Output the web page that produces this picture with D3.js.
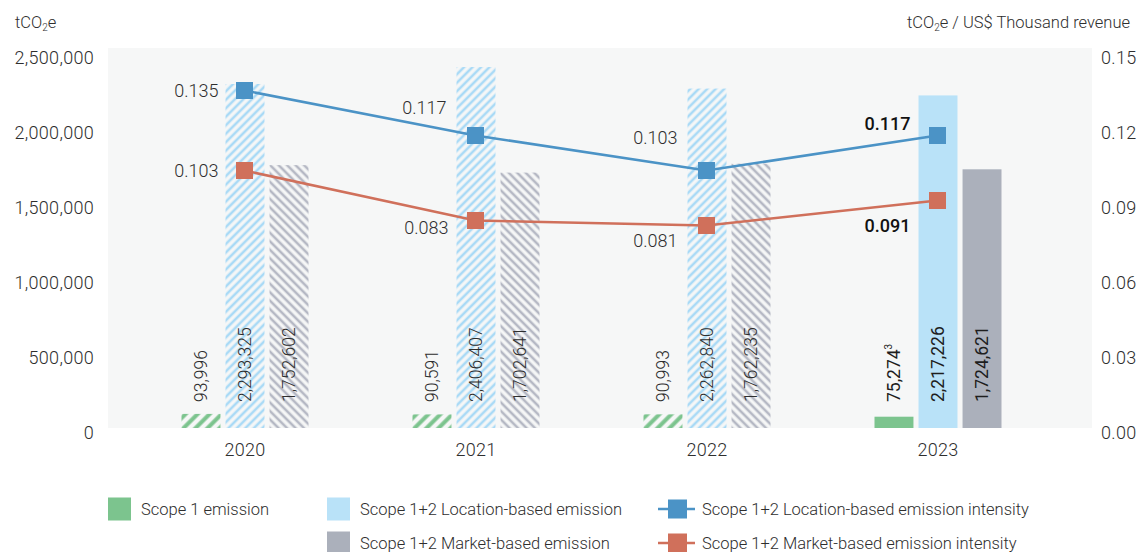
<!DOCTYPE html>
<html>
<head>
<meta charset="utf-8">
<script src="https://cdn.jsdelivr.net/npm/d3@7"></script>
<style>
  html, body { margin: 0; padding: 0; background: #ffffff; }
  svg { display: block; font-family: Roboto, "Noto Sans", sans-serif; font-weight: 300; }
</style>
</head>
<body>
<svg id="chart" width="1138" height="552"></svg>
<script>
// ---- data ----
const years = ["2020", "2021", "2022", "2023"];
const scope1 = [93996, 90591, 90993, 75274];
const locationBased = [2293325, 2406407, 2262840, 2217226];
const marketBased = [1752602, 1702641, 1762235, 1724621];
const locationIntensity = [0.135, 0.117, 0.103, 0.117];
const marketIntensity = [0.103, 0.083, 0.081, 0.091];
const leftTicks = [0, 500000, 1000000, 1500000, 2000000, 2500000];
const rightTicks = [0, 0.03, 0.06, 0.09, 0.12, 0.15];
const finalYear = "2023";

// ---- layout ----
const plot = { left: 108, right: 1092, top: 48, bottom: 428 };
const textColor = "#2e2e2e";
const colors = {
  scope1: "#7cc48e",
  location: "#b9e2f8",
  market: "#abb0bb",
  locLine: "#4b93c6",
  mktLine: "#d0705b",
  bg: "#f6f7f7"
};
// intensity label offsets relative to each marker [dx, dy]
const locLabelOffset = [[-26, 0], [-29, -28], [-29, -33], [-27, -12]];
const mktLabelOffset = [[-26, 0], [-27, 7], [-29, 15], [-27, 25]];

const svg = d3.select("#chart");
const defs = svg.append("defs");

// diagonal stripe fills for the earlier years
function hatch(id, color, angle, spacing, strokeW) {
  const p = defs.append("pattern")
    .attr("id", id)
    .attr("patternUnits", "userSpaceOnUse")
    .attr("width", spacing).attr("height", spacing)
    .attr("patternTransform", `rotate(${angle})`);
  p.append("rect").attr("width", spacing).attr("height", spacing).attr("fill", colors.bg);
  p.append("line")
    .attr("x1", spacing / 2).attr("y1", 0).attr("x2", spacing / 2).attr("y2", spacing)
    .attr("stroke", color).attr("stroke-width", strokeW);
}
hatch("hatch-scope1", colors.scope1, 45, 8.5, 4);
hatch("hatch-location", "#a9daf6", 45, 6, 2.6);
hatch("hatch-market", "#b5b8c4", -45, 6, 2.6);

// ---- scales ----
const x = d3.scaleBand().domain(years).range([129.5, 1053.5]).paddingInner(0);
const series = ["scope1", "location", "market"];
const xs = d3.scaleBand().domain(series).range([-63.5, 63.5]).paddingInner(0.115);
const yL = d3.scaleLinear().domain([0, 2500000]).range([plot.bottom, 53]);
const yR = d3.scaleLinear().domain([0, 0.15]).range([plot.bottom, 53]);

// plot background
svg.append("rect")
  .attr("x", plot.left).attr("y", plot.top)
  .attr("width", plot.right - plot.left).attr("height", plot.bottom - plot.top)
  .attr("fill", colors.bg);

// ---- axes ----
const fmt = d3.format(",");
const leftAxis = svg.append("g")
  .attr("transform", `translate(94,5)`)
  .call(d3.axisLeft(yL).tickValues(leftTicks).tickFormat(fmt).tickSize(0).tickPadding(0));
const rightAxis = svg.append("g")
  .attr("transform", `translate(1101,5)`)
  .call(d3.axisRight(yR).tickValues(rightTicks).tickFormat(d3.format(".2f")).tickSize(0).tickPadding(0));
const bottomAxis = svg.append("g")
  .attr("transform", `translate(0,${plot.bottom + 15})`)
  .call(d3.axisBottom(x).tickSize(0).tickPadding(0));
[leftAxis, rightAxis, bottomAxis].forEach(g => {
  g.select(".domain").remove();
  g.selectAll("text").attr("fill", textColor).attr("font-size", 18)
    .attr("font-family", "Roboto, 'Noto Sans', sans-serif").attr("font-weight", 300)
    .attr("letter-spacing", 0.3);
});

// axis titles
const leftTitle = svg.append("text").attr("x", 15).attr("y", 28)
  .attr("fill", textColor).attr("font-size", 16.5);
leftTitle.append("tspan").text("tCO");
leftTitle.append("tspan").attr("font-size", 10).attr("dy", 3).text("2");
leftTitle.append("tspan").attr("dy", -3).text("e");

const rightTitle = svg.append("text").attr("x", 1130).attr("y", 28)
  .attr("text-anchor", "end").attr("fill", textColor).attr("font-size", 16.5);
rightTitle.append("tspan").text("tCO");
rightTitle.append("tspan").attr("font-size", 10).attr("dy", 3).text("2");
rightTitle.append("tspan").attr("dy", -3).text("e / US$ Thousand revenue");

// ---- bars ----
const barRows = years.map((yr, i) => ({
  year: yr,
  items: [
    { key: "scope1", value: scope1[i] },
    { key: "location", value: locationBased[i] },
    { key: "market", value: marketBased[i] }
  ]
}));

const groups = svg.append("g").selectAll("g")
  .data(barRows).join("g")
  .attr("transform", d => `translate(${x(d.year) + x.bandwidth() / 2},0)`);

groups.selectAll("rect")
  .data(d => d.items.map(it => ({ ...it, year: d.year })))
  .join("rect")
  .attr("x", d => xs(d.key))
  .attr("width", xs.bandwidth())
  .attr("y", d => yL(d.value))
  .attr("height", d => yL(0) - yL(d.value))
  .attr("fill", d => d.year === finalYear ? colors[d.key] : `url(#hatch-${d.key})`);

// rotated value labels
const valueLabels = groups.selectAll("text.val")
  .data(d => d.items.map(it => ({ ...it, year: d.year })))
  .join("text")
  .attr("class", "val")
  .attr("transform", d => `translate(${xs(d.key) + xs.bandwidth() / 2 + 6},402) rotate(-90)`)
  .attr("fill", d => d.year === finalYear ? "#1e1e1e" : textColor)
  .attr("font-weight", d => d.year === finalYear ? 400 : 300)
  .attr("font-size", 17.5);
valueLabels.append("tspan").text(d => fmt(d.value));
valueLabels.filter(d => d.year === finalYear && d.key === "scope1")
  .append("tspan").attr("font-size", 10).attr("dy", -8).text("3");

// ---- intensity lines ----
function drawLine(values, color, offsets) {
  const pts = years.map((yr, i) => ({ year: yr, value: values[i], off: offsets[i] }));
  const cx = d => x(d.year) + x.bandwidth() / 2 + xs("location") + xs.bandwidth() / 2 - 0.5;
  svg.append("path")
    .datum(pts)
    .attr("fill", "none").attr("stroke", color).attr("stroke-width", 2.6)
    .attr("d", d3.line().x(cx).y(d => yR(d.value)));
  svg.append("g").selectAll("rect").data(pts).join("rect")
    .attr("x", d => cx(d) - 8.5).attr("y", d => yR(d.value) - 8.5)
    .attr("width", 17).attr("height", 17).attr("fill", color);
  svg.append("g").selectAll("text").data(pts).join("text")
    .attr("x", d => cx(d) + d.off[0])
    .attr("y", d => yR(d.value) + d.off[1])
    .attr("dy", "0.35em")
    .attr("text-anchor", "end")
    .attr("font-size", 18)
    .attr("font-weight", d => d.year === finalYear ? 500 : 300)
    .attr("fill", d => d.year === finalYear ? "#111" : textColor)
    .text(d => d3.format(".3f")(d.value));
}
drawLine(locationIntensity, colors.locLine, locLabelOffset);
drawLine(marketIntensity, colors.mktLine, mktLabelOffset);

// ---- legend ----
const legendItems = [
  { type: "box", color: colors.scope1, label: "Scope 1 emission", x: 108, y: 509 },
  { type: "box", color: colors.location, label: "Scope 1+2 Location-based emission", x: 327, y: 509 },
  { type: "box", color: colors.market, label: "Scope 1+2 Market-based emission", x: 327, y: 543 },
  { type: "line", color: colors.locLine, label: "Scope 1+2 Location-based emission intensity", x: 658, y: 509 },
  { type: "line", color: colors.mktLine, label: "Scope 1+2 Market-based emission intensity", x: 658, y: 543 }
];
const lg = svg.append("g").selectAll("g").data(legendItems).join("g")
  .attr("transform", d => `translate(${d.x},${d.y})`);
lg.filter(d => d.type === "box").append("rect")
  .attr("x", 0).attr("y", -11.5).attr("width", 23).attr("height", 23)
  .attr("fill", d => d.color);
lg.filter(d => d.type === "line").append("line")
  .attr("x1", 0).attr("x2", 37).attr("y1", 0).attr("y2", 0)
  .attr("stroke", d => d.color).attr("stroke-width", 2.6);
lg.filter(d => d.type === "line").append("rect")
  .attr("x", 10).attr("y", -9.5).attr("width", 19).attr("height", 19)
  .attr("fill", d => d.color);
lg.append("text")
  .attr("x", d => d.type === "box" ? 33 : 44)
  .attr("y", 0).attr("dy", "0.35em")
  .attr("font-size", 16.5).attr("fill", textColor)
  .text(d => d.label);
</script>
</body>
</html>
